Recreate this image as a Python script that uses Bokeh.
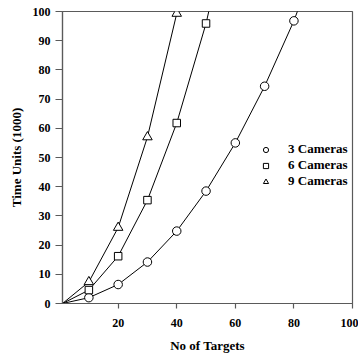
from bokeh.plotting import figure
from bokeh.models import ColumnDataSource, Range1d, FixedTicker, Legend, LegendItem
from bokeh.embed import file_html
from bokeh.resources import INLINE

# ---- data ----
targets = [1, 10, 20, 30, 40, 50, 60, 70, 80, 90]
cam3 = [0.0, 2.0, 6.5, 14.2, 24.8, 38.5, 55.0, 74.4, 96.8, 124.0]
cam6 = [0.0, 4.6, 16.2, 35.4, 61.8, 95.9, 140.0]
cam9 = [0.0, 7.4, 26.0, 57.0, 99.3, 150.0]
series_names = ["3 Cameras", "6 Cameras", "9 Cameras"]
x_ticks = [20, 40, 60, 80, 100]
y_ticks = [0, 10, 20, 30, 40, 50, 60, 70, 80, 90, 100]

FONT = "Liberation Serif"
AXIS_COL = "#5a5a5a"

p = figure(width=358, height=356, output_backend="svg", toolbar_location=None,
           x_range=Range1d(1, 100), y_range=Range1d(0, 100),
           min_border_left=62, min_border_right=6, min_border_top=11, min_border_bottom=53)
p.grid.visible = False
p.outline_line_color = AXIS_COL
p.outline_line_width = 1.2
p.background_fill_color = "white"
p.border_fill_color = "white"

renderers = []
markers = ["circle", "square", "triangle"]
sizes = [8.5, 7.5, 9.5]
for name, ys, mk, sz in zip(series_names, [cam3, cam6, cam9], markers, sizes):
    xs = targets[:len(ys)]
    src_line = ColumnDataSource(dict(x=xs, y=ys))
    src_pts = ColumnDataSource(dict(x=xs[1:], y=ys[1:]))
    p.line("x", "y", source=src_line, line_color="black", line_width=1)
    r = p.scatter("x", "y", source=src_pts, marker=mk, size=sz,
                  fill_color="white", line_color="black", line_width=1)
    renderers.append((name, r))

legend = Legend(items=[LegendItem(label=n, renderers=[r]) for n, r in renderers],
                location=(197, 114), padding=0, margin=0, spacing=-1,
                glyph_width=13, glyph_height=13, label_height=13, label_standoff=16,
                border_line_alpha=0, background_fill_alpha=0,
                label_text_font=FONT, label_text_font_style="bold",
                label_text_font_size="13px", label_text_color="black")
p.add_layout(legend, "center")

for ax in (p.xaxis[0], p.yaxis[0]):
    ax.axis_line_color = AXIS_COL
    ax.axis_line_width = 1.2
    ax.major_tick_line_color = AXIS_COL
    ax.major_tick_line_width = 1.2
    ax.minor_tick_line_color = None
    ax.major_tick_in = 0
    ax.major_label_text_font = FONT
    ax.major_label_text_font_style = "bold"
    ax.major_label_text_font_size = "12px"
    ax.major_label_text_color = "black"
    ax.axis_label_text_font = FONT
    ax.axis_label_text_font_style = "bold"
    ax.axis_label_text_font_size = "13px"
    ax.axis_label_text_color = "black"

p.xaxis[0].ticker = FixedTicker(ticks=x_ticks)
p.yaxis[0].ticker = FixedTicker(ticks=y_ticks)
p.xaxis[0].major_tick_out = 5
p.yaxis[0].major_tick_out = 7
p.xaxis[0].major_label_standoff = 10
p.yaxis[0].major_label_standoff = 5
p.xaxis[0].axis_label = "No of Targets"
p.yaxis[0].axis_label = "Time Units (1000)"
p.xaxis[0].axis_label_standoff = 8
p.yaxis[0].axis_label_standoff = 6

open("out.html", "w").write(file_html(p, INLINE))
